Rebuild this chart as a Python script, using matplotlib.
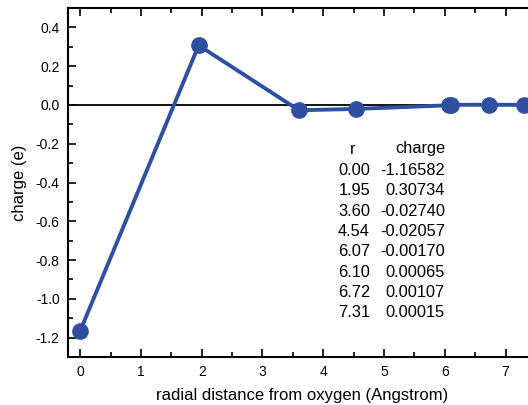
import matplotlib
matplotlib.use("Agg")
from matplotlib import pyplot as plt
from matplotlib.ticker import MultipleLocator, FormatStrFormatter

# Daten
r = [0.00, 1.95, 3.60, 4.54, 6.07, 6.10, 6.72, 7.31]
charge = [-1.16582, 0.30734, -0.02740, -0.02057, -0.00170, 0.00065, 0.00107, 0.00015]
r_labels = ["0.00", "1.95", "3.60", "4.54", "6.07", "6.10", "6.72", "7.31"]
charge_labels = ["-1.16582", "0.30734", "-0.02740", "-0.02057",
                 "-0.00170", "0.00065", "0.00107", "0.00015"]

plt.rcParams['font.family'] = ['Liberation Sans', 'DejaVu Sans']

W, H = 528, 405
fig = plt.figure(figsize=(W / 100, H / 100), dpi=100)
# Achse ragt rechts etwas ueber das Bild hinaus
left, right, top, bottom = 68, 536, 8, 357
ax = fig.add_axes([left / W, 1 - bottom / H, (right - left) / W, (bottom - top) / H])

blue = '#2f4fa3'
ax.axhline(0, color='black', lw=1.3, zorder=1)
ax.plot(r, charge, color=blue, lw=2.8, marker='o', ms=11,
        markeredgecolor=blue, zorder=3, clip_on=False)

ax.set_xlim(-0.2, 7.5)
ax.set_ylim(-1.3, 0.5)
ax.xaxis.set_major_locator(MultipleLocator(1))
ax.xaxis.set_minor_locator(MultipleLocator(0.5))
ax.yaxis.set_major_locator(MultipleLocator(0.2))
ax.yaxis.set_minor_locator(MultipleLocator(0.1))
ax.yaxis.set_major_formatter(FormatStrFormatter('%.1f'))
ax.tick_params(which='both', direction='in', top=True, right=True, width=1.2)
ax.tick_params(which='major', length=6, labelsize=10, pad=6)
ax.tick_params(which='minor', length=3.5)
for s in ax.spines.values():
    s.set_linewidth(1.5)

ax.set_xlabel('radial distance from oxygen (Angstrom)', fontsize=12, labelpad=6)
ax.set_ylabel('charge (e)', fontsize=12, labelpad=6)

# Tabelle
fs = 11.8
fig.text(353 / W, 1 - 149 / H, 'r', ha='center', va='center', fontsize=fs)
fig.text(445 / W, 1 - 149 / H, 'charge', ha='right', va='center', fontsize=fs)
for i in range(len(r_labels)):
    y = 170.5 + i * 20.35
    fig.text(370 / W, 1 - y / H, r_labels[i], ha='right', va='center', fontsize=fs)
    fig.text(445 / W, 1 - y / H, charge_labels[i], ha='right', va='center', fontsize=fs)

fig.savefig('out.png', dpi=100)
